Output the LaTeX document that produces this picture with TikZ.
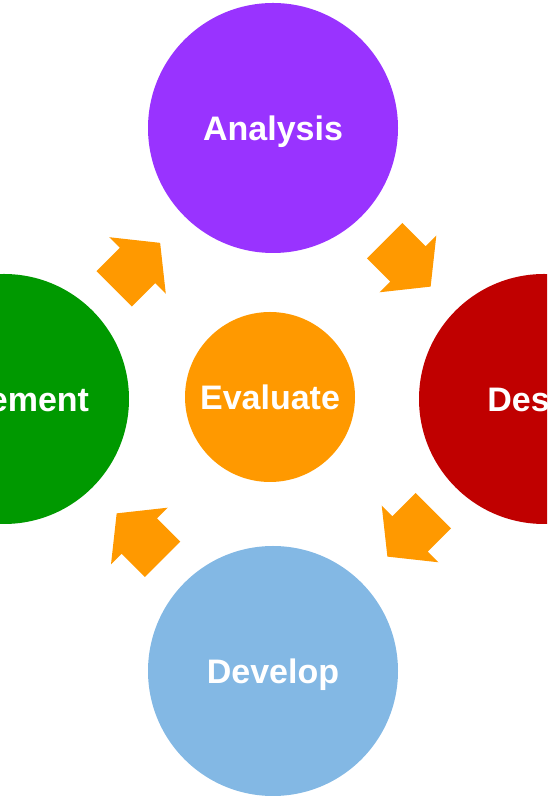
\documentclass[tikz,border=0pt]{standalone}
\usepackage{xcolor}
\usepackage{fontspec}
\setmainfont{Liberation Sans}
\usepackage{tikz}
\definecolor{analysiscol}{HTML}{9933FF}
\definecolor{designcol}{HTML}{C00000}
\definecolor{implementcol}{HTML}{009900}
\definecolor{developcol}{HTML}{83B8E4}
\definecolor{evaluatecol}{HTML}{FF9900}
\tikzset{
  phase/.style={circle, minimum size=250pt, inner sep=0pt, text=white,
    font=\bfseries\fontsize{34}{40}\selectfont, text height=24.5pt, text depth=0pt},
  blockarrow/.style={fill=evaluatecol}
}

\begin{document}
\begin{tikzpicture}[x=1pt, y=1pt]
\path[use as bounding box, clip] (0,0) rectangle (547,800);
\node[phase, fill=analysiscol] (Analysis) at (273,672) {Analysis};
\node[phase, fill=designcol] (Design) at (544,401) {Design};
\node[phase, fill=implementcol] (Implement) at (4,401) {Implement};
\node[phase, fill=developcol] (Develop) at (273,129) {Develop};
\node[phase, fill=evaluatecol, minimum size=170pt] (Evaluate) at (270,403) {Evaluate};
% block arrows between the phases
\foreach \cx/\cy/\ang in {408/536/-45, 137.5/534.5/45, 410/266/-135, 139.3/264/135}
  \fill[blockarrow, shift={(\cx,\cy)}, rotate=\ang] (-33,-25) -- (0,-25) -- (0,-40) -- (32,0) -- (0,40) -- (0,25) -- (-33,25) -- cycle;
\end{tikzpicture}
\end{document}
